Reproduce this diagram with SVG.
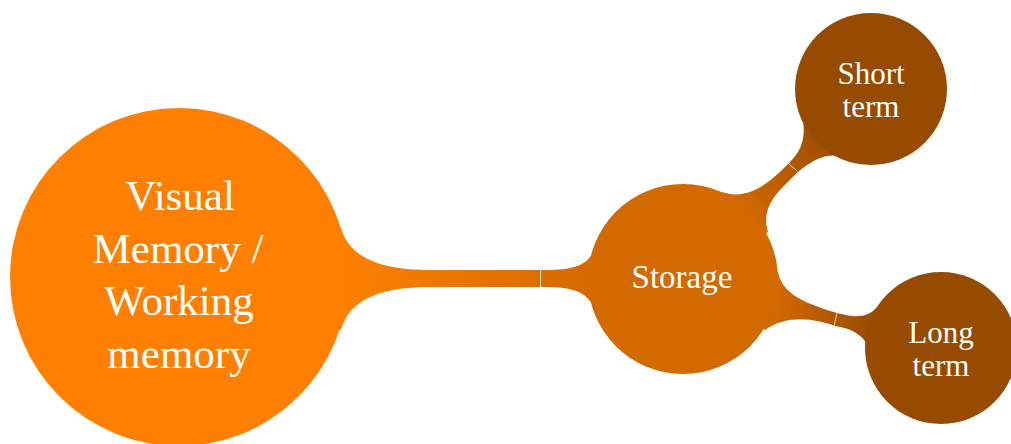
<svg xmlns="http://www.w3.org/2000/svg" width="1011" height="444" viewBox="0 0 1011 444">
<style>
.t{font-family:"Liberation Serif","Times New Roman",serif;fill:#ffffff;text-anchor:middle}
.seam{stroke:#ffffff;stroke-opacity:0.75;stroke-width:1;fill:none}
</style>
<defs>
<linearGradient id="g1" gradientUnits="userSpaceOnUse" x1="341" y1="279" x2="592" y2="279">
<stop offset="0" stop-color="#FF8000"/><stop offset="1" stop-color="#D36A00"/>
</linearGradient>
<linearGradient id="g2" gradientUnits="userSpaceOnUse" x1="745" y1="215" x2="835" y2="125">
<stop offset="0" stop-color="#D36A00"/><stop offset="1" stop-color="#964B00"/>
</linearGradient>
<linearGradient id="g3" gradientUnits="userSpaceOnUse" x1="775" y1="300" x2="875" y2="327">
<stop offset="0" stop-color="#D36A00"/><stop offset="1" stop-color="#964B00"/>
</linearGradient>
</defs>
<rect width="1011" height="444" fill="#ffffff"/>
<g id="connectors">
<path fill="url(#g1)" d="M 341,228 C 350,260 385,270 430,270 L 545,270 C 572,270 585,266 592,254 L 640,279 L 592,304 C 585,292 572,287 545,287 L 430,287 C 385,287 350,297 341,330 L 250,279 Z"/>
<path fill="url(#g2)" d="M 722,192 C 745,200 765,188 790,162 C 800,152 806,140 803,121 L 871,89 L 852,162 C 835,150 818,155 798,172 C 780,190 760,205 768,232 L 683,279 Z"/>
<path fill="url(#g3)" d="M 778,272 C 782,292 800,302 837,313 C 855,318 868,318 877,307 L 941,348 L 868,346 C 862,334 850,328 835,326 C 815,319 788,314 765,330 L 683,279 Z"/>
<line class="seam" x1="540.5" y1="270" x2="540.5" y2="287"/>
<line class="seam" x1="788" y1="163" x2="797" y2="171"/>
<line class="seam" x1="837" y1="313" x2="834" y2="326"/>
</g>
<g id="main">
<circle cx="179" cy="277" r="169" fill="#FF8000"/>
<text class="t" font-size="43"><tspan x="180" y="210">Visual</tspan><tspan x="178" y="263">Memory /</tspan><tspan x="179" y="315">Working</tspan><tspan x="179" y="368">memory</tspan></text>
</g>
<g id="storage">
<circle cx="683" cy="279" r="95" fill="#D36A00"/>
<text class="t" font-size="33" x="682" y="288">Storage</text>
</g>
<g id="short">
<circle cx="871" cy="89" r="76" fill="#964B00"/>
<text class="t" font-size="31"><tspan x="871" y="84">Short</tspan><tspan x="871" y="117">term</tspan></text>
</g>
<g id="long">
<circle cx="941" cy="348" r="76" fill="#964B00"/>
<text class="t" font-size="31"><tspan x="941" y="343">Long</tspan><tspan x="941" y="376">term</tspan></text>
</g>
</svg>
